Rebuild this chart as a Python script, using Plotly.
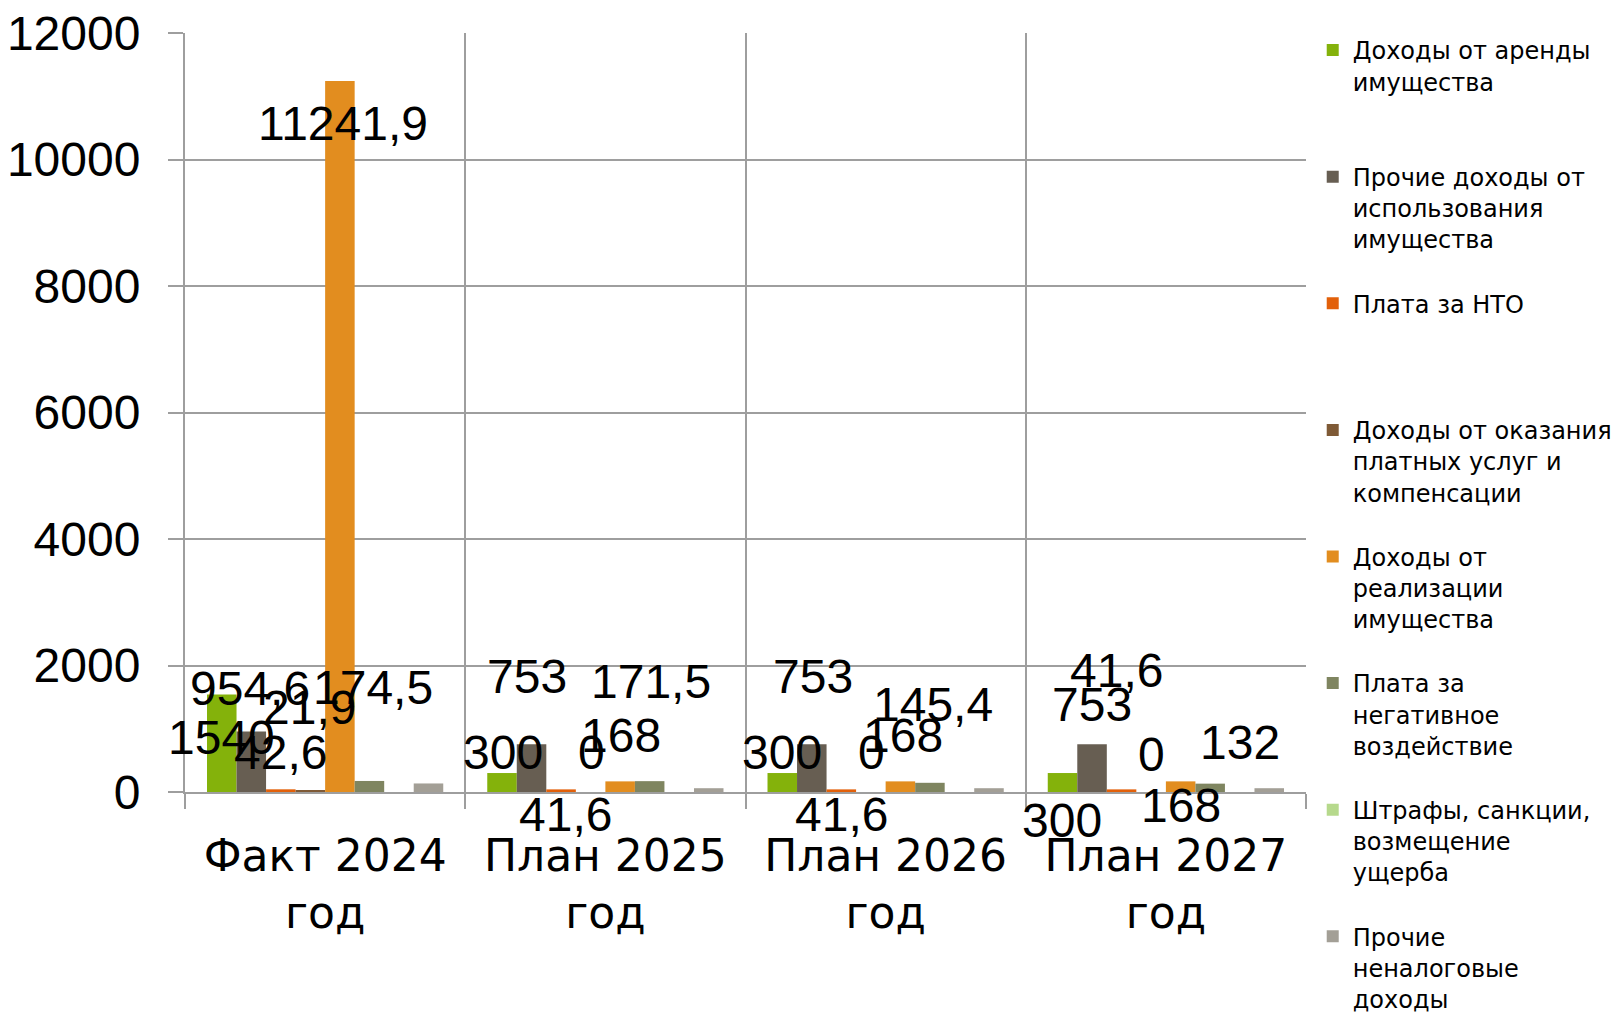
import plotly.graph_objects as go

categories = ["Факт 2024<br>год", "План 2025<br>год", "План 2026<br>год", "План 2027<br>год"]

series_names = [
    "Доходы от аренды<br>имущества<br> ",
    "Прочие доходы от<br>использования<br>имущества",
    "Плата за НТО<br> <br> ",
    "Доходы от оказания<br>платных услуг и<br>компенсации",
    "Доходы от<br>реализации<br>имущества",
    "Плата за<br>негативное<br>воздействие",
    "Штрафы, санкции,<br>возмещение<br>ущерба",
    "Прочие<br>неналоговые<br>доходы",
]

arenda = [1540, 300, 300, 300]
prochie_ispolz = [954.6, 753, 753, 753]
plata_nto = [42.6, 41.6, 41.6, 41.6]
platnye_uslugi = [21.9, 0, 0, 0]
realizaciya = [11241.9, 168, 168, 168]
negativ = [174.5, 171.5, 145.4, 132]
shtrafy = [0, 0, 0, 0]
prochie_nenalog = [135, 60, 60, 60]

series_values = [arenda, prochie_ispolz, plata_nto, platnye_uslugi,
                 realizaciya, negativ, shtrafy, prochie_nenalog]

colors = ["#84B20B", "#675E52", "#E2600A", "#7F5A36",
          "#E28D1F", "#7F8560", "#B6D98C", "#A39F96"]

# label style: (series index, category index, x nudge px, y nudge px (down +))
label_style = [
    (0, 0, 0, 43), (1, 0, -1, -43), (2, 0, 0, -37), (3, 0, -1, -83), (4, 0, 3, 43), (5, 0, 4, -93),
    (0, 1, 1, -21), (1, 1, -5, -68), (2, 1, 4, 25), (3, 1, 1, -40), (4, 1, 1, -46), (5, 1, 1, -100),
    (0, 2, 0, -21), (1, 2, 1, -68), (2, 2, 0, 25), (3, 2, 1, -40), (4, 2, 3, -46), (5, 2, 3, -78),
    (0, 3, -1, 47), (1, 3, 0, -40), (2, 3, -5, -119), (3, 3, 0, -38), (4, 3, 0, 24), (5, 3, 30, -41),
]

BARGAP = 0.157
NUM_FONT = "Liberation Sans, Arial, sans-serif"
TXT_FONT = "DejaVu Sans, sans-serif"
GRID = "#9E9E9E"

fig = go.Figure()
for i, (name, vals, col) in enumerate(zip(series_names, series_values, colors)):
    fig.add_trace(go.Bar(
        x=categories, y=vals, name=name, marker=dict(color=col, line=dict(width=0)),
        legendgroup=f"g{i}", hoverinfo="y",
    ))

n = len(series_values)
group_w = 1 - BARGAP
annotations = []
for si, ci, dx, dy in label_style:
    v = series_values[si][ci]
    xpos = ci - group_w / 2 + (si + 0.5) * group_w / n
    txt = f"{v:g}".replace(".", ",")
    annotations.append(dict(
        x=xpos, y=v, xref="x", yref="y", text=txt, showarrow=False,
        xanchor="center", yanchor="middle", xshift=dx, yshift=-dy,
        font=dict(family=NUM_FONT, size=48, color="#000000"),
    ))

fig.update_layout(
    width=1614, height=1005,
    barmode="group", bargap=BARGAP, bargroupgap=0,
    paper_bgcolor="white", plot_bgcolor="white",
    margin=dict(l=177, r=316, t=25, b=221, autoexpand=False),
    annotations=annotations,
    showlegend=True,
    legend=dict(
        x=1.006, y=1.0066, xanchor="left", yanchor="top",
        font=dict(family=TXT_FONT, size=24, color="#000000"),
        valign="top", tracegroupgap=30, itemwidth=30,
        bgcolor="rgba(0,0,0,0)", maxheight=1200,
    ),
    xaxis=dict(
        type="category", range=[-0.5, 3.5], tickson="boundaries",
        showgrid=True, gridcolor=GRID, gridwidth=2,
        ticks="outside", ticklen=15, tickwidth=2, tickcolor=GRID,
        showline=True, linecolor=GRID, linewidth=2,
        tickfont=dict(family=TXT_FONT, size=44, color="#000000"),
        ticklabelstandoff=24,
    ),
    yaxis=dict(
        range=[0, 12000], dtick=2000, tick0=0, showgrid=True, gridcolor=GRID, gridwidth=2,
        ticks="outside", ticklen=15, tickwidth=2, tickcolor=GRID,
        showline=True, linecolor=GRID, linewidth=2, zeroline=False,
        tickfont=dict(family=NUM_FONT, size=48, color="#000000"),
        ticklabelstandoff=18, tickformat="d", ticklabeloverflow="allow",
    ),
)

fig.write_html("out.html")
